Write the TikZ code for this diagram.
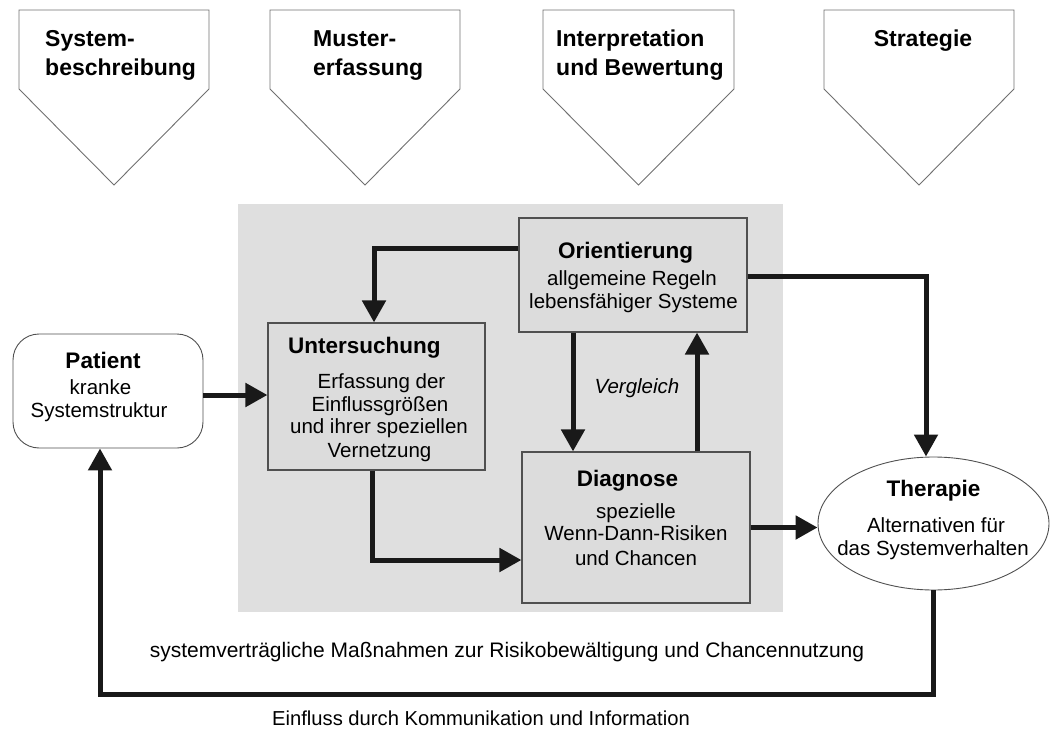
\documentclass[tikz,border=0pt]{standalone}
\usepackage{fontspec}
\setmainfont{Liberation Sans}
\usetikzlibrary{arrows.meta,shapes.geometric,calc}
\definecolor{boxgray}{HTML}{DCDCDC}
\definecolor{bggray}{HTML}{DFDFDF}
\definecolor{edgegray}{HTML}{505050}
\definecolor{pentgray}{HTML}{707070}
\begin{document}
\begin{tikzpicture}[x=1pt,y=-1pt,
  pent/.style={draw=pentgray, line width=0.9pt, fill=white, line join=miter},
  toptxt/.style={font=\fontsize{23}{27}\selectfont\bfseries, inner sep=0pt},
  ttl/.style={font=\fontsize{22.5}{27}\selectfont\bfseries, inner sep=0pt, anchor=base},
  body/.style={font=\fontsize{20.5}{24}\selectfont, inner sep=0pt, anchor=base},
  box/.style={draw=edgegray, line width=1.1pt, fill=boxgray, inner sep=0pt, rectangle},
  conn/.style={line width=5pt, draw=black!90, line join=miter, -{Triangle[length=22pt,width=23pt]}},
]
\useasboundingbox (0,0) rectangle (1050,733);

% top pentagons
\draw[pent] (19,10) -- (209,10) -- (209,89) -- (114,185) -- (19,89) -- cycle;
\draw[pent] (270,10) -- (460,10) -- (460,89) -- (365,185) -- (270,89) -- cycle;
\draw[pent] (543,10) -- (734,10) -- (734,89) -- (638.5,185) -- (543,89) -- cycle;
\draw[pent] (824,10) -- (1014,10) -- (1014,89) -- (919,185) -- (824,89) -- cycle;
\node[toptxt, anchor=base west] (p1a) at (45,47) {System-};
\node[toptxt, anchor=base west] (p1b) at (45,76) {beschreibung};
\node[toptxt, anchor=base west] (p2a) at (313,47) {Muster-};
\node[toptxt, anchor=base west] (p2b) at (313,76) {erfassung};
\node[toptxt, anchor=base west] (p3a) at (556,47) {Interpretation};
\node[toptxt, anchor=base west] (p3b) at (556,76) {und Bewertung};
\node[toptxt, anchor=base] (p4a) at (923,47) {Strategie};

% grey background
\fill[bggray] (238,204) rectangle (783,612);

% boxes
\node[box, minimum width=228pt, minimum height=114pt] (ori) at (633,275) {};
\node[box, minimum width=217pt, minimum height=147pt] (unt) at (376.5,396.5) {};
\node[box, minimum width=228pt, minimum height=151pt] (dia) at (636,527.5) {};
\node[draw=edgegray, line width=0.9pt, fill=white, rounded corners=26pt, minimum width=190pt, minimum height=114pt, inner sep=0pt] (pat) at (108,391) {};
\node[draw=edgegray, line width=0.9pt, fill=white, ellipse, minimum width=231pt, minimum height=133pt, inner sep=0pt] (ther) at (933.5,523.5) {};

% connectors
\draw[conn] ([yshift=-4pt]pat.east) -- ([yshift=-4pt]pat.east -| unt.west);
\draw[conn] ([yshift=27pt]ori.west) -| ([xshift=-2.5pt]unt.north);
\draw[conn] ([xshift=-4.5pt]unt.south) |- ([yshift=-32.5pt]dia.west);
\draw[conn] ([xshift=-60pt]ori.south) -- ([xshift=-60pt]ori.south |- dia.north);
\draw[conn] ([xshift=61pt]dia.north) -- ([xshift=61pt]dia.north |- ori.south);
\draw[conn] ([yshift=-1pt]ori.east) -| ([xshift=-7.5pt]ther.north);
\draw[conn] (dia.east) -- (dia.east -| ther.west);
\coordinate (bl) at (100,694);
\draw[conn] (ther.south) |- (bl) -- ([xshift=-8pt]pat.south);

% texts
\node[ttl] (ori1) at (625.5,258) {Orientierung};
\node[body] (ori2) at (632,285) {allgemeine Regeln};
\node[body] (ori3) at (633.5,308) {lebensfähiger Systeme};

\node[ttl, anchor=base west] (unt1) at (288,353) {Untersuchung};
\node[body] (unt2) at (381.5,388) {Erfassung der};
\node[body] (unt3) at (380,411) {Einflussgrößen};
\node[body] (unt4) at (379,433) {und ihrer speziellen};
\node[body] (unt5) at (379.5,457) {Vernetzung};

\node[ttl] (dia1) at (627.5,486) {Diagnose};
\node[body] (dia2) at (636,518) {spezielle};
\node[body] (dia3) at (636,540) {Wenn-Dann-Risiken};
\node[body] (dia4) at (636,565) {und Chancen};

\node[body, font=\fontsize{20.5}{24}\selectfont\itshape] (verg) at (637,393) {Vergleich};

\node[ttl] (pat1) at (103,368) {Patient};
\node[body] (pat2) at (100.5,394) {kranke};
\node[body] (pat3) at (99,417) {Systemstruktur};

\node[ttl] (ther1) at (933.5,496) {Therapie};
\node[body] (ther2) at (936,532) {Alternativen für};
\node[body] (ther3) at (933,555) {das Systemverhalten};

\node[body, font=\fontsize{21}{24}\selectfont] (bot1) at (507,657) {systemverträgliche Maßnahmen zur Risikobewältigung und Chancennutzung};
\node[body, font=\fontsize{20.2}{24}\selectfont] (bot2) at (481,725) {Einfluss durch Kommunikation und Information};
\end{tikzpicture}
\end{document}
